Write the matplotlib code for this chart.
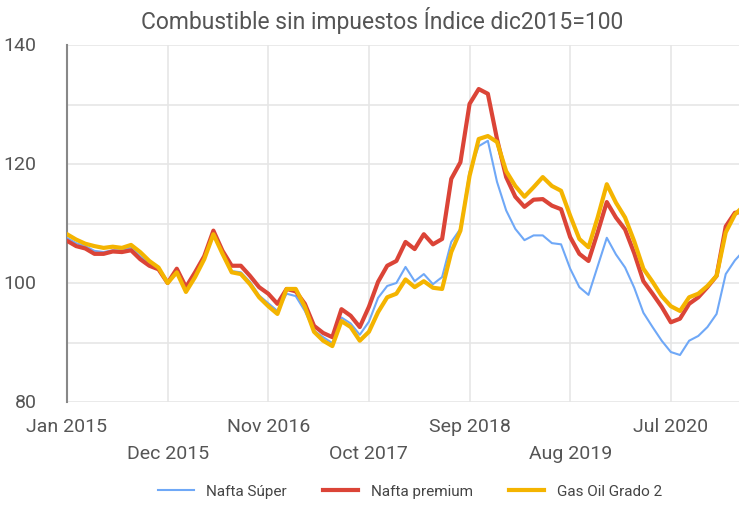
import numpy as np
import matplotlib.pyplot as plt

# monthly index, dic2015 = 100, starting Jan 2015
nafta_super = [107.6, 106.7, 106.2, 105.4, 105.2, 105.5, 105.5, 106.0, 104.5, 103.3, 102.5, 100.0,
               102.0, 98.8, 101.3, 104.2, 108.5, 105.0, 102.0, 101.8, 100.2, 97.9, 96.6, 95.3,
               98.2, 97.8, 95.3, 92.0, 90.9, 89.9, 94.2, 93.2, 91.3, 93.5, 97.5, 99.5,
               100.0, 102.7, 100.3, 101.5, 99.8, 101.0, 106.9, 109.1, 118.7, 123.0, 123.9, 117.0,
               112.2, 109.1, 107.2, 108.0, 108.0, 106.7, 106.5, 102.4, 99.3, 98.0, 102.8, 107.6,
               104.8, 102.6, 99.2, 95.0, 92.6, 90.3, 88.4, 87.9, 90.3, 91.1, 92.6, 94.8,
               101.5, 103.8, 105.5]
nafta_premium = [107.1, 106.2, 105.8, 104.9, 104.9, 105.3, 105.2, 105.5, 104.0, 102.9, 102.3, 100.0,
                 102.4, 99.3, 101.8, 104.5, 108.8, 105.4, 102.9, 102.9, 101.2, 99.3, 98.2, 96.5,
                 99.0, 98.6, 96.5, 92.8, 91.6, 90.9, 95.6, 94.5, 92.6, 96.0, 100.2, 102.9,
                 103.7, 106.9, 105.7, 108.2, 106.5, 107.4, 117.5, 120.3, 130.1, 132.6, 131.8, 124.2,
                 117.8, 114.5, 112.8, 114.0, 114.1, 113.0, 112.4, 107.7, 104.9, 103.7, 108.5, 113.6,
                 111.0, 109.0, 105.0, 100.3, 98.2, 96.0, 93.4, 94.0, 96.5, 97.6, 99.3, 101.2,
                 109.5, 111.8, 112.0]
gas_oil_g2 = [108.2, 107.3, 106.6, 106.2, 105.9, 106.1, 105.9, 106.4, 105.2, 103.7, 102.6, 100.0,
              101.8, 98.5, 101.0, 104.0, 108.2, 104.9, 101.8, 101.5, 99.8, 97.6, 96.1, 94.8,
              99.0, 99.0, 96.0, 91.8, 90.3, 89.4, 93.6, 92.6, 90.3, 91.8, 95.1, 97.6,
              98.2, 100.6, 99.3, 100.3, 99.2, 99.0, 105.2, 108.8, 118.0, 124.2, 124.7, 123.7,
              118.8, 116.3, 114.5, 116.1, 117.8, 116.3, 115.5, 111.3, 107.4, 106.0, 111.0, 116.6,
              113.5, 111.0, 107.0, 102.4, 100.2, 97.8, 96.1, 95.3, 97.6, 98.2, 99.5, 101.2,
              108.5, 111.5, 113.0]

tick_pos = [0, 11, 22, 33, 44, 55, 66]
tick_labels = ['Jan 2015', 'Dec 2015', 'Nov 2016', 'Oct 2017', 'Sep 2018', 'Aug 2019', 'Jul 2020']

plt.rcParams['font.family'] = ['Roboto', 'DejaVu Sans']

fig = plt.figure(figsize=(7.39, 5.06), dpi=100)
ax = fig.add_axes([67 / 739, 1 - 403 / 506, 1 - 67 / 739, (403 - 46) / 506])

x = np.arange(len(nafta_super))
ax.plot(x, nafta_super, color='#6fa8f7', lw=1.5, label='Nafta Súper', zorder=3)
ax.plot(x, nafta_premium, color='#db4437', lw=3, label='Nafta premium', zorder=4)
ax.plot(x, gas_oil_g2, color='#f4b400', lw=3, label='Gas Oil Grado 2', zorder=5)

ax.set_xlim(0, 73.45)
ax.set_ylim(80, 140)
ax.set_yticks([80, 100, 120, 140])
ax.set_yticks([90, 110, 130], minor=True)
ax.set_xticks(tick_pos)
ax.set_xticklabels(tick_labels)
for k, lab in enumerate(ax.get_xticklabels()):
    if k % 2 == 1:
        lab.set_y(-0.076)

ax.grid(True, which='both', color='#e6e6e6', lw=1.2)
ax.tick_params(which='both', length=0)
ax.tick_params(axis='x', labelsize=14, colors='#555555', pad=11)
ax.tick_params(axis='y', labelsize=14, colors='#555555', pad=22)
for lab in ax.get_yticklabels():
    lab.set_verticalalignment('center')
for s in ['top', 'right', 'bottom']:
    ax.spines[s].set_visible(False)
ax.spines['left'].set_color('#888888')
ax.spines['left'].set_linewidth(1.5)

fig.text(0.517, 1 - 21 / 506, 'Combustible sin impuestos Índice dic2015=100',
         ha='center', va='center', fontsize=16.5, color='#555555')

leg = fig.legend(loc='center', bbox_to_anchor=(0.555, 1 - 492 / 506), ncol=3,
                 frameon=False, fontsize=11, handlelength=2.3, columnspacing=2.4)
for t in leg.get_texts():
    t.set_color('#444444')

fig.savefig('out.png', dpi=100)
